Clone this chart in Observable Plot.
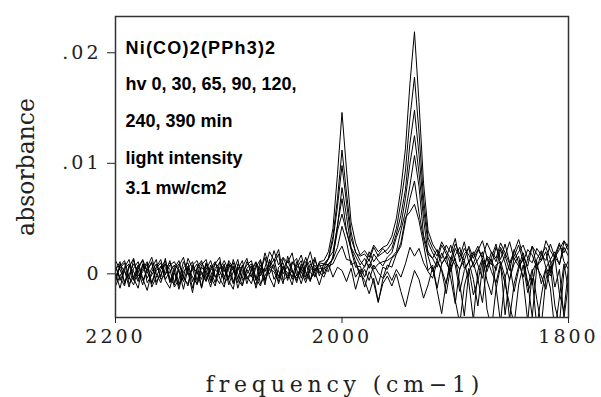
<!DOCTYPE html>
<html><head><meta charset="utf-8">
<script src="https://cdn.jsdelivr.net/npm/d3@7"></script>
<script src="https://cdn.jsdelivr.net/npm/@observablehq/plot@0.6"></script>
<style>
body{margin:0;background:#fff}
g[aria-label="x-axis tick label"] text, g[aria-label="y-axis tick label"] text{letter-spacing:3px}
</style></head><body><div id="chart"></div>
<script>
// frequency grid (cm-1)
const freq = [2200,2196,2192,2188,2184,2180,2176,2172,2168,2164,2160,2156,2152,2148,2144,2140,2136,2132,2128,2124,2120,2116,2112,2108,2104,2100,2096,2092,2088,2084,2080,2076,2072,2068,2064,2060,2056,2052,2048,2044,2040,2036,2032,2028,2024,2020,2016,2012,2008,2004,2000,1996,1992,1988,1984,1980,1976,1972,1968,1964,1960,1956,1952,1948,1944,1940,1936,1932,1928,1924,1920,1916,1912,1908,1904,1900,1896,1892,1888,1884,1880,1876,1872,1868,1864,1860,1856,1852,1848,1844,1840,1836,1832,1828,1824,1820,1816,1812,1808,1804,1800];
// absorbance of each spectrum, in units of 0.001
const s0 = [0.8,-0.6,0.3,-1.2,0.5,1.1,-0.4,-1.5,0.2,0.9,-0.3,1.4,-0.8,0.1,-1.1,0.6,1.0,-0.7,0.3,-1.3,0.4,1.2,-0.2,-0.9,0.7,-0.5,1.3,0.0,-1.0,0.5,0.9,-0.6,0.2,1.5,-0.3,-1.2,0.6,1.0,-0.4,0.3,-0.8,0.7,1.1,-0.5,0.2,-1.0,0.4,0.9,-0.3,0.6,0.3,-0.7,0.5,-1.4,0.1,-0.6,-1.8,-0.4,-2.5,-0.9,-0.2,-1.1,0.0,-1.6,-3.0,-1.2,0.3,-0.5,-2.2,-1.0,0.6,-1.5,-3.6,-0.8,0.9,-2.4,-4.5,-1.1,0.5,-1.9,-0.6,1.2,-3.2,-5.0,-1.4,0.7,-0.9,-2.8,-4.6,-1.0,0.8,-1.7,-0.4,-4.8,-2.0,0.4,-1.3,-5.2,-2.1,0.9,-1.5];
const s1 = [-0.5,0.7,1.2,-0.3,-1.0,0.4,1.3,0.2,-0.8,0.5,1.0,-0.6,-1.3,0.3,0.9,-0.2,-1.1,0.8,1.2,0.0,-0.7,0.5,1.1,-0.4,-1.2,0.9,0.3,-0.8,0.6,1.4,-0.1,-1.0,0.8,0.2,1.1,-0.5,0.3,-0.9,1.6,0.4,-0.6,0.9,0.1,-0.7,1.3,0.2,-0.3,0.7,0.9,1.8,2.5,1.3,1.2,-0.3,0.4,-1.2,0.2,-0.8,-2.6,-0.5,0.2,-0.6,0.4,-0.3,0.9,2.4,1.6,2.3,1.0,0.2,-0.4,1.1,0.3,-1.8,0.6,1.4,-0.9,-3.8,0.2,1.0,-0.5,-2.6,0.8,1.3,-1.2,-4.4,-0.3,0.9,-1.6,0.4,1.5,-0.8,-3.9,0.6,-0.2,-1.4,0.7,-2.9,-4.6,0.3,1.2];
const s2 = [0.3,1.1,-0.9,0.6,1.4,-0.5,0.2,0.9,-1.2,-0.3,0.7,0.0,1.2,-0.8,0.4,-1.4,0.5,1.1,-0.6,0.8,1.3,-0.3,-1.1,0.6,0.2,1.0,-0.7,0.4,1.2,-0.5,0.3,1.0,-0.9,-0.2,0.7,1.3,-0.4,0.5,0.1,-1.0,0.8,1.7,0.2,-0.6,0.4,0.9,0.0,0.9,1.3,2.4,4.3,2.9,0.8,1.1,-0.3,0.4,-0.6,0.8,0.1,-0.4,0.8,0.6,1.8,2.8,5.1,5.6,6.3,4.8,2.7,0.3,0.8,-1.3,0.9,1.6,-0.4,-2.7,0.5,1.2,-0.8,-4.2,0.3,1.4,-0.6,-1.9,0.8,1.1,-0.3,-4.1,-0.9,0.7,1.3,-1.1,0.4,-2.3,-4.7,-0.5,0.9,1.5,-1.8,-3.4,0.6];
const s3 = [-1.1,-0.2,0.6,1.3,-0.4,-1.3,0.8,0.3,1.0,-0.7,-0.1,0.9,0.4,-1.2,-0.5,1.1,0.2,-1.7,0.6,1.2,-0.4,0.3,0.9,1.5,-0.9,-0.2,0.7,-1.3,0.1,0.8,1.2,-0.4,-1.1,0.5,0.0,0.9,1.8,-0.6,-0.2,1.1,0.4,-0.9,0.6,1.2,-0.3,0.5,0.5,0.2,1.6,3.9,5.4,3.8,2.2,0.6,0.7,-0.3,0.9,0.2,-1.0,0.6,0.4,1.4,1.8,2.5,4.7,6.8,8.4,5.5,3.2,1.6,0.2,1.2,0.4,-0.9,1.5,0.8,-1.6,0.3,1.1,-0.5,-2.9,0.6,1.4,0.2,-0.8,1.0,-3.7,-0.4,0.9,1.6,-0.6,-4.3,0.2,1.1,-0.9,0.5,1.3,-1.2,0.4,-4.0,-0.8];
const s4 = [1.2,0.4,-0.7,-0.1,0.9,0.3,-1.0,0.6,1.5,0.0,-0.8,0.5,1.0,0.3,-1.4,0.2,0.7,-0.3,-0.9,0.6,0.1,-1.2,0.5,1.0,0.4,-0.6,-1.4,0.9,0.3,-0.2,-0.9,0.6,1.3,-0.5,0.4,0.2,-0.7,1.4,0.6,-0.3,1.1,0.2,-0.8,0.5,1.5,-0.2,0.9,0.8,1.4,4.4,6.8,3.9,2.3,1.1,0.0,0.7,1.3,0.4,0.9,1.1,1.2,1.5,2.0,3.9,5.6,8.0,10.7,7.9,3.5,2.0,1.4,0.6,1.9,1.0,0.2,1.7,2.4,0.5,1.1,2.0,0.8,-0.4,1.6,1.2,0.3,2.2,1.0,-0.6,1.4,0.7,1.9,0.4,-1.0,1.3,2.1,0.6,-0.2,1.5,0.9,2.4,1.6];
const s5 = [0.1,-1.3,0.5,0.9,-0.6,0.7,1.2,-0.8,-0.1,0.6,1.3,-0.5,0.2,0.8,-0.9,-0.3,1.4,0.5,-1.0,0.2,-0.6,0.8,-0.3,0.4,1.2,0.3,-0.9,0.6,-0.4,1.1,0.5,-1.3,0.1,1.9,0.6,2.1,0.8,1.5,1.0,1.9,-0.2,0.6,-0.5,0.3,0.8,0.1,0.5,1.4,2.0,4.3,7.8,5.2,2.4,1.6,0.8,1.4,0.5,1.8,1.2,0.7,1.5,1.9,3.3,4.4,6.8,10.0,12.5,9.1,5.0,1.8,1.4,2.2,0.9,1.5,2.6,1.1,0.4,1.8,2.3,0.6,1.3,2.0,0.2,1.5,2.7,0.8,1.6,0.3,2.2,1.0,-0.3,1.4,2.5,0.7,1.2,2.0,0.1,1.7,2.8,1.1,0.4];
const s6 = [-0.8,0.9,0.2,-0.5,1.3,-0.2,0.4,1.1,-0.9,0.3,0.6,1.2,-0.4,-1.0,0.7,1.5,-0.1,0.3,0.9,-1.2,0.9,0.2,-0.8,1.1,-0.3,0.6,1.0,-0.5,-1.1,0.4,-0.3,0.8,0.5,-1.0,1.3,0.4,-0.2,0.7,-0.6,0.9,1.4,-0.4,0.8,2.0,0.3,0.7,0.8,1.3,3.0,6.1,9.8,6.4,3.2,2.0,1.2,0.6,2.0,1.1,1.7,2.3,1.8,2.3,3.6,5.3,7.6,11.8,14.8,10.8,5.9,2.8,1.9,1.2,2.6,1.8,0.9,2.3,1.5,2.9,1.0,1.7,2.5,1.3,0.6,2.0,1.4,2.8,1.9,0.9,1.6,2.6,1.1,2.2,1.7,0.5,1.8,2.4,1.3,2.0,0.8,2.9,2.1];
const s7 = [0.6,-0.3,-1.1,0.8,0.2,-0.7,0.9,-0.4,0.5,1.3,-0.5,-0.1,0.8,1.1,0.2,-0.7,0.6,-1.3,0.4,1.0,0.3,-0.6,1.0,0.2,-0.5,1.2,0.5,-0.4,0.8,-0.9,0.4,1.1,-0.2,0.6,2.0,1.2,2.2,0.0,0.7,-0.5,0.5,1.2,-0.3,0.9,0.2,1.0,0.9,1.4,3.4,6.8,11.2,7.3,3.8,1.9,1.6,1.8,1.2,2.4,1.6,1.9,2.2,2.8,4.1,6.5,9.3,14.1,17.8,12.8,6.8,3.3,2.3,1.6,2.9,2.1,1.3,2.7,1.8,1.2,2.5,1.4,2.2,1.5,2.8,1.9,1.1,2.4,1.6,2.9,1.3,2.0,2.6,1.4,1.0,2.3,1.7,1.2,2.7,1.5,2.2,3.0,2.4];
const s8 = [-0.2,0.5,1.0,-0.9,-0.3,0.8,-0.6,0.3,1.1,-1.0,0.4,0.9,-0.7,0.5,1.2,-0.4,-0.9,0.7,0.1,-0.5,1.0,-0.8,0.4,-0.1,0.9,-1.0,0.2,1.3,-0.6,0.0,0.7,-0.5,1.2,-0.7,0.5,0.8,-0.9,0.4,1.2,0.2,-0.4,0.3,1.5,0.1,-0.2,1.1,1.2,2.0,4.1,9.0,14.6,9.4,4.7,2.8,1.7,2.1,1.5,2.6,2.0,2.4,2.6,3.4,5.0,7.7,11.3,17.2,21.9,15.5,8.2,3.9,2.7,2.0,1.4,2.6,1.9,3.2,1.1,2.3,1.7,0.9,2.1,3.0,1.5,0.8,2.4,1.3,2.7,1.0,2.0,3.1,1.6,0.7,2.5,1.8,1.2,3.0,2.1,1.4,2.6,1.9,2.8];
const spectra = [s0, s1, s2, s3, s4, s5, s6, s7, s8];

const legendLines = ["Ni(CO)2(PPh3)2", "hv 0, 30, 65, 90, 120,", "240, 390 min", "light intensity", "3.1 mw/cm2"];
const xTicks = [2200, 2000, 1800];
const xTickLabels = ["2200", "2000", "1800"];
const yTicks = [0, 0.01, 0.02];
const yTickLabels = ["0", ".01", ".02"];
const xLabel = "frequency (cm\u22121)";
const yLabel = "absorbance";

const rows = spectra.flatMap((vals, k) => vals.map((v, i) => ({freq: freq[i], absorbance: v / 1000, trace: k})));

const legendDy = [37, 73, 110, 147, 177];
const legendMarks = legendLines.map((t, i) => Plot.text([t], {
  frameAnchor: "top-left", dx: 10, dy: legendDy[i], lineAnchor: "bottom", textAnchor: "start",
  fontFamily: "Liberation Sans, Arial, sans-serif", fontWeight: "bold", fontSize: 18, fill: "black"
}));

const chart = Plot.plot({
  width: 601, height: 397,
  marginLeft: 115, marginRight: 33, marginTop: 16, marginBottom: 80,
  style: {fontFamily: "DejaVu Serif, serif", fontSize: "19px", color: "#222", background: "white"},
  x: {domain: [2200, 1800]},
  y: {domain: [-0.00395, 0.02328]},
  marks: [
    Plot.line(rows, {x: "freq", y: "absorbance", z: "trace", stroke: "black", strokeWidth: 1, clip: true}),
    Plot.frame({stroke: "#333", strokeWidth: 1.5}),
    Plot.axisX({ticks: xTicks, tickFormat: d => xTickLabels[xTicks.indexOf(d)], tickSize: 6, tickPadding: 6, label: null}),
    Plot.axisY({ticks: yTicks, tickFormat: d => yTickLabels[yTicks.indexOf(d)], tickSize: 8, tickPadding: 6, label: null}),
    Plot.text([xLabel], {frameAnchor: "bottom", dx: 3, dy: 74, lineAnchor: "bottom", textAnchor: "middle", fontSize: 22, fontFamily: "DejaVu Serif, serif", fill: "#222"}),
    Plot.text([yLabel], {frameAnchor: "left", dx: -82, rotate: -90, lineAnchor: "bottom", textAnchor: "middle", fontSize: 23.5, fontFamily: "DejaVu Serif, serif", fill: "#222"}),
    ...legendMarks
  ]
});
d3.select(chart).selectAll("text").filter(function() { return this.textContent === xLabel; }).style("letter-spacing", "4.8px");
d3.select(chart).selectAll("text").filter(function() { return this.textContent === legendLines[0]; }).style("letter-spacing", "1.2px");
document.getElementById("chart").appendChild(chart);
</script></body></html>
